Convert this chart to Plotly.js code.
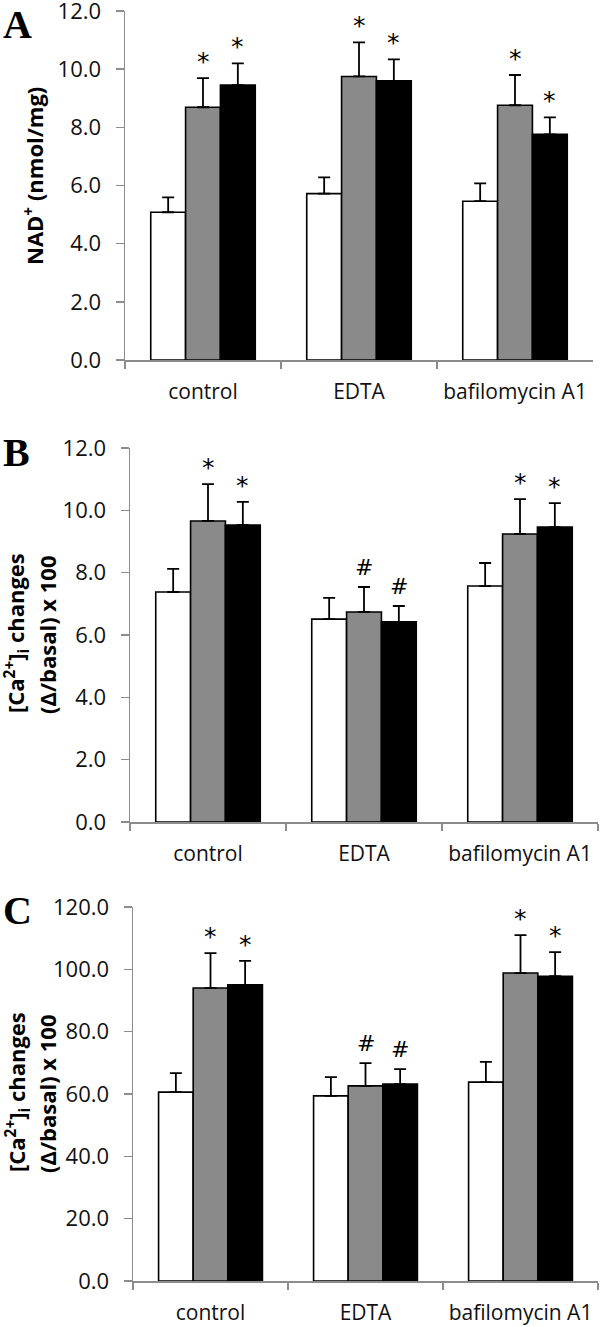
<!DOCTYPE html>
<html><head><meta charset="utf-8">
<script src="https://cdn.plot.ly/plotly-3.0.1.min.js"></script>
<style>body{margin:0;background:#fff}</style>
</head><body><div id="chart" style="width:600px;height:1327px"></div>
<script>
const categories = ["control", "EDTA", "bafilomycin A1"];

// Panel A: NAD+ (nmol/mg)
const nadWhite = [5.08, 5.72, 5.46];
const nadWhiteErr = [0.51, 0.56, 0.61];
const nadGray = [8.69, 9.75, 8.76];
const nadGrayErr = [1.0, 1.17, 1.04];
const nadBlack = [9.45, 9.6, 7.76];
const nadBlackErr = [0.75, 0.74, 0.58];
const nadGrayMark = ["*", "*", "*"];
const nadBlackMark = ["*", "*", "*"];

// Panel B: [Ca2+]i changes
const caBWhite = [7.38, 6.51, 7.57];
const caBWhiteErr = [0.74, 0.68, 0.74];
const caBGray = [9.66, 6.74, 9.24];
const caBGrayErr = [1.18, 0.8, 1.12];
const caBBlack = [9.53, 6.42, 9.46];
const caBBlackErr = [0.74, 0.51, 0.77];
const caBGrayMark = ["*", "#", "*"];
const caBBlackMark = ["*", "#", "*"];

// Panel C: [Ca2+]i changes
const caCWhite = [60.6, 59.4, 63.8];
const caCWhiteErr = [6.1, 6.0, 6.5];
const caCGray = [94.0, 62.6, 98.8];
const caCGrayErr = [11.2, 7.3, 12.2];
const caCBlack = [95.0, 63.2, 97.8];
const caCBlackErr = [7.7, 4.8, 7.7];
const caCGrayMark = ["*", "#", "*"];
const caCBlackMark = ["*", "#", "*"];

const panels = [
  {xa: "x", ya: "y", series: [[nadWhite, nadWhiteErr, null], [nadGray, nadGrayErr, nadGrayMark], [nadBlack, nadBlackErr, nadBlackMark]]},
  {xa: "x2", ya: "y2", series: [[caBWhite, caBWhiteErr, null], [caBGray, caBGrayErr, caBGrayMark], [caBBlack, caBBlackErr, caBBlackMark]]},
  {xa: "x3", ya: "y3", series: [[caCWhite, caCWhiteErr, null], [caCGray, caCGrayErr, caCGrayMark], [caCBlack, caCBlackErr, caCBlackMark]]}
];

const fills = ["#ffffff", "#8a8a8a", "#000000"];
const BARGAP = 0.33;
const W = (1 - BARGAP) / 3;
const AX = "#8c8c8c";
const SANS = "'Open Sans', sans-serif";

const traces = [];
const annotations = [];
panels.forEach(p => {
  p.series.forEach((s, k) => {
    traces.push({
      type: "bar", x: categories, y: s[0], xaxis: p.xa, yaxis: p.ya,
      marker: {color: fills[k], line: {color: "#000", width: 1.6}},
      error_y: {type: "data", symmetric: false, array: s[1], arrayminus: s[0].map(() => 0),
        color: "#000", thickness: 1.8, width: 6},
      hoverinfo: "skip"
    });
    if (s[2]) {
      s[2].forEach((m, i) => {
        annotations.push({
          xref: p.xa, yref: p.ya, x: i + (k - 1) * W, y: s[0][i] + s[1][i],
          text: m, showarrow: false, yanchor: "bottom", xanchor: "center",
          yshift: m === "#" ? 5 : 0,
          font: {family: "'DejaVu Sans', sans-serif", size: m === "#" ? 22 : 25, color: "#000"}
        });
      });
    }
  });
});

const H = 1327, WD = 600;
function xdom(l, r) { return [l / WD, r / WD]; }
function ydom(t, b) { return [1 - b / H, 1 - t / H]; }

function xaxis(dom, anchor) {
  return {domain: dom, anchor: anchor, type: "category", tickson: "boundaries", ticks: "outside",
    ticklen: 7, tickwidth: 1.5, tickcolor: AX, showline: true, linecolor: AX, linewidth: 1.5,
    showgrid: false, zeroline: false, ticklabelstandoff: 12, tickangle: 0, ticklabeloverflow: "allow",
    tickfont: {family: SANS, size: 21, color: "#111"}, fixedrange: true};
}
function yaxis(dom, anchor, max, dt) {
  return {domain: dom, anchor: anchor, range: [0, max], dtick: dt, tick0: 0, tickformat: ".1f",
    ticks: "outside", ticklen: 8, tickwidth: 1.5, tickcolor: AX, showline: true, linecolor: AX,
    linewidth: 1.5, showgrid: false, zeroline: false, ticklabelstandoff: 10, ticklabeloverflow: "allow",
    tickfont: {family: SANS, size: 22, color: "#111"}, fixedrange: true};
}

const titleFont = {family: SANS, size: 22, color: "#000", weight: "bold"};
function rotTitle(text, xpx, ypx) {
  return {xref: "paper", yref: "paper", x: xpx / WD, y: 1 - ypx / H, text: text, textangle: -90,
    showarrow: false, xanchor: "center", yanchor: "middle", font: titleFont};
}
function letter(text, ypx) {
  return {xref: "paper", yref: "paper", x: 1 / WD, y: 1 - ypx / H, text: "<b>" + text + "</b>",
    showarrow: false, xanchor: "left", yanchor: "top",
    font: {family: "'Liberation Serif', 'Times New Roman', serif", size: 40, color: "#000"}};
}

annotations.push(rotTitle("NAD<sup>+</sup> (nmol/mg)", 34, 176));
annotations.push(rotTitle("[Ca<sup>2+</sup>]<sub>i</sub> changes", 17, 633));
annotations.push(rotTitle("(Δ/basal) x 100", 47, 635));
annotations.push(rotTitle("[Ca<sup>2+</sup>]<sub>i</sub> changes", 17, 1092));
annotations.push(rotTitle("(Δ/basal) x 100", 47, 1094));
annotations.push(letter("A", 0));
annotations.push(letter("B", 428));
annotations.push(letter("C", 886));

const layout = {
  width: 600, height: 1327, margin: {l: 0, r: 0, t: 0, b: 0},
  paper_bgcolor: "#fff", plot_bgcolor: "#fff", showlegend: false,
  barmode: "group", bargap: BARGAP, bargroupgap: 0,
  xaxis: xaxis(xdom(125, 593), "y"),
  yaxis: yaxis(ydom(11, 360), "x", 12, 2),
  xaxis2: xaxis(xdom(130, 598), "y2"),
  yaxis2: yaxis(ydom(448, 822), "x2", 12, 2),
  xaxis3: xaxis(xdom(133, 598), "y3"),
  yaxis3: yaxis(ydom(907, 1281), "x3", 120, 20),
  annotations: annotations
};

Plotly.newPlot("chart", traces, layout, {staticPlot: true});
</script></body></html>
